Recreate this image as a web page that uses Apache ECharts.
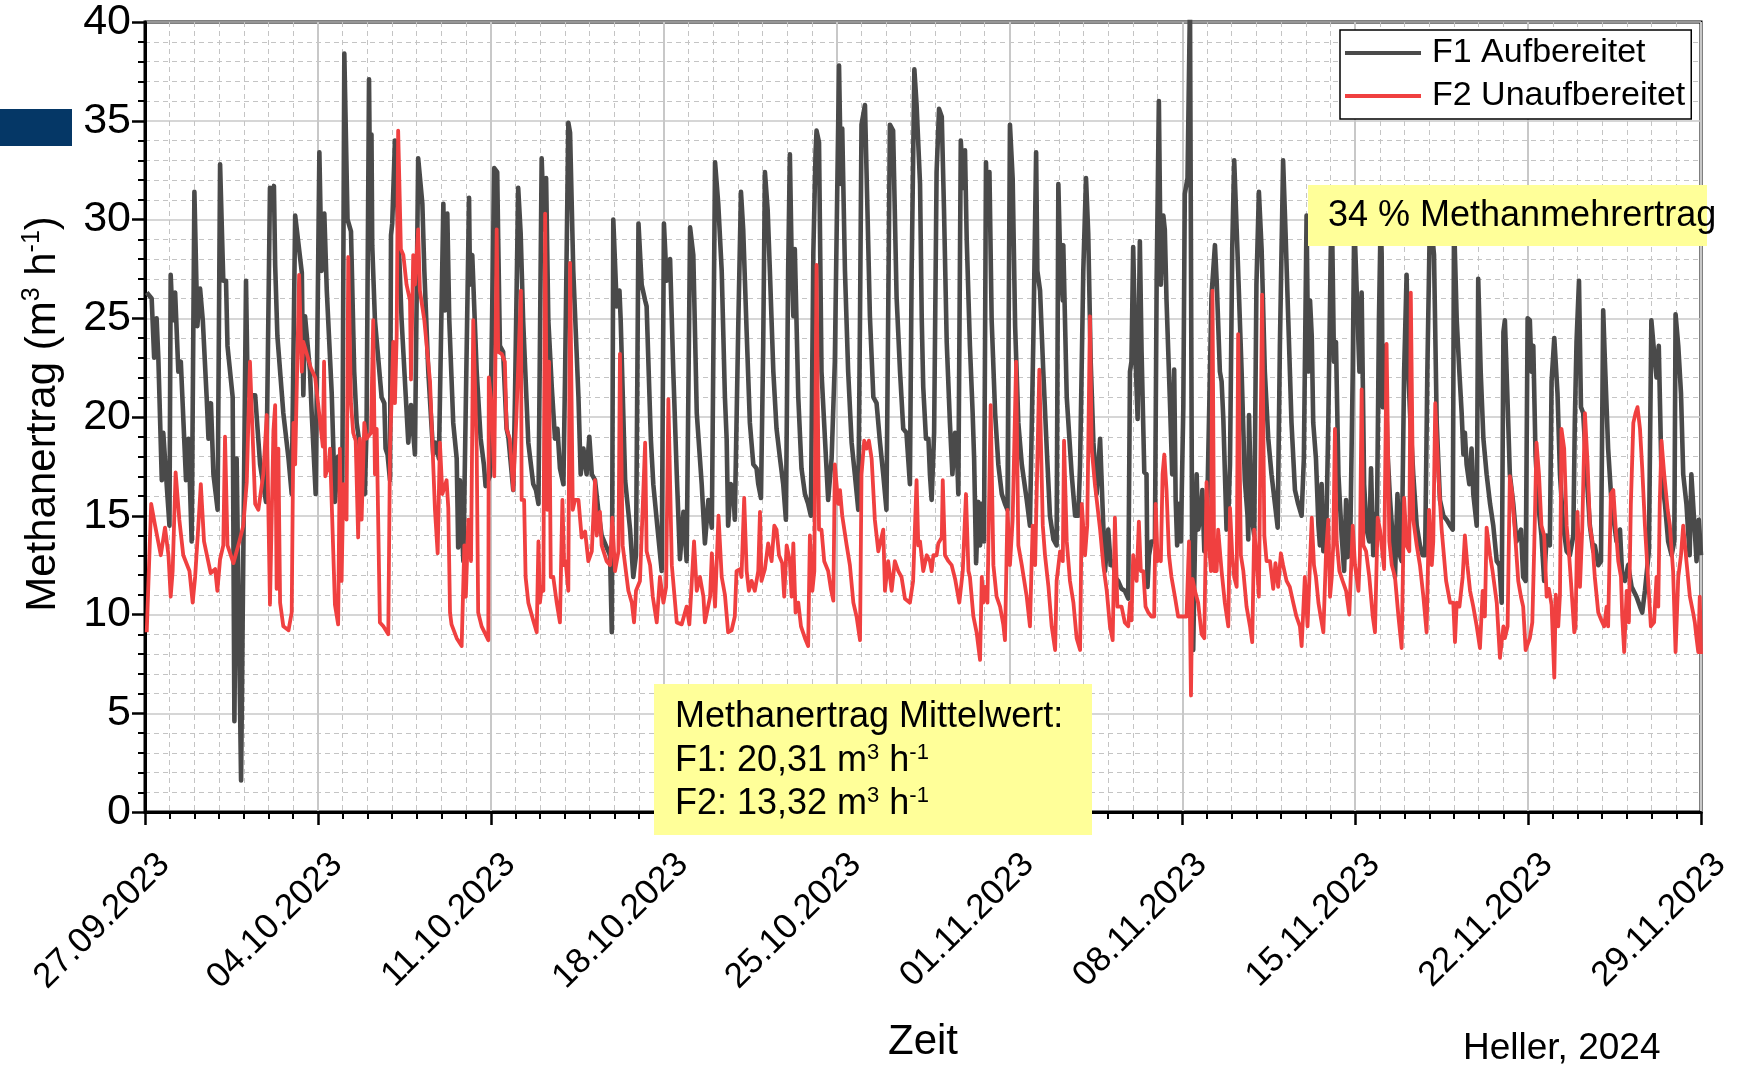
<!DOCTYPE html>
<html><head><meta charset="utf-8">
<script src="https://cdn.jsdelivr.net/npm/echarts@6/dist/echarts.min.js"></script>
<style>html,body{margin:0;padding:0;background:#fff}#c{width:1738px;height:1065px}</style>
</head><body><div id="c"></div>
<script>
// x = days since 27.09.2023 00:00, y = methane yield (m3/h)
const TICK_LABELS = ['27.09.2023','04.10.2023','11.10.2023','18.10.2023','25.10.2023','01.11.2023','08.11.2023','15.11.2023','22.11.2023','29.11.2023'];
const SERIES_NAMES = ['F1 Aufbereitet', 'F2 Unaufbereitet'];

const F1 = [
[0.07,26.3],[0.27,26.0],[0.37,23.0],[0.47,25.0],[0.54,23.0],[0.68,16.8],[0.74,19.2],[0.85,17.1],[0.99,14.5],
[1.04,27.2],[1.12,24.9],[1.22,26.3],[1.35,22.3],[1.45,22.8],[1.66,16.8],[1.76,18.9],[1.89,13.7],
[2.00,31.4],[2.12,24.6],[2.23,26.5],[2.34,24.9],[2.50,20.9],[2.57,18.9],[2.67,20.7],[2.77,17.1],[2.94,15.3],
[3.04,32.8],[3.17,26.9],[3.28,26.9],[3.34,23.6],[3.55,21.0],[3.62,4.6],[3.71,17.9],[3.89,1.6],
[4.09,26.9],[4.16,21.1],[4.46,21.1],[4.66,17.6],[4.90,15.7],
[5.06,31.6],[5.16,30.8],[5.22,31.7],[5.27,27.7],[5.36,24.1],[5.60,20.2],[5.81,17.9],[5.94,16.1],
[6.08,30.2],[6.35,27.3],[6.41,21.1],[6.48,25.1],[6.68,22.3],[6.75,20.2],[6.91,16.1],
[7.06,33.4],[7.15,27.4],[7.26,30.3],[7.36,26.4],[7.56,21.2],[7.69,15.7],[7.82,18.0],[7.99,16.5],
[8.07,38.4],[8.20,30.0],[8.34,29.4],[8.47,22.3],[8.57,19.7],[8.66,18.9],[8.90,16.1],[8.97,19.4],
[9.07,37.1],[9.13,29.0],[9.17,34.3],[9.20,28.7],[9.31,24.9],[9.58,21.0],[9.69,20.7],[9.74,18.4],[9.82,18.1],[9.92,16.8],
[9.96,29.2],[10.01,29.8],[10.12,34.0],[10.39,24.9],[10.66,18.7],[10.77,20.6],[10.93,18.1],
[11.06,33.1],[11.23,30.8],[11.31,27.4],[11.47,22.3],[11.67,18.1],[11.77,18.7],[11.90,17.9],
[12.08,30.8],[12.14,25.4],[12.24,30.3],[12.32,24.9],[12.48,19.7],[12.62,17.9],[12.68,13.4],[12.75,16.8],[12.89,12.7],
[13.12,31.1],[13.16,26.7],[13.25,28.2],[13.43,22.3],[13.59,18.9],[13.72,17.6],[13.79,16.5],[13.96,17.0],
[14.14,32.6],[14.26,32.4],[14.30,29.0],[14.37,23.6],[14.50,23.3],[14.64,19.4],[14.71,19.0],[14.91,16.3],[14.98,21.0],
[15.11,31.6],[15.21,29.3],[15.31,24.9],[15.52,18.7],[15.72,16.6],[15.83,16.3],[15.93,15.6],
[16.06,33.1],[16.16,29.5],[16.24,32.1],[16.33,24.9],[16.47,21.5],[16.60,18.9],[16.70,19.4],[16.80,17.4],[16.94,16.6],[17.01,22.3],
[17.14,34.9],[17.21,34.4],[17.34,27.4],[17.55,21.0],[17.64,17.1],[17.75,18.4],[17.88,17.1],[17.99,19.0],
[18.09,17.1],[18.22,16.8],[18.36,15.2],[18.49,14.0],[18.69,13.4],[18.83,13.0],[18.90,9.1],
[18.96,30.0],[19.10,25.6],[19.21,26.4],[19.26,24.9],[19.44,16.8],[19.64,14.3],[19.77,11.9],[19.88,13.0],
[19.98,29.8],[20.11,26.7],[20.25,25.9],[20.31,25.6],[20.48,18.9],[20.58,16.6],[20.74,14.5],[20.92,12.2],
[21.01,29.8],[21.12,26.9],[21.26,28.0],[21.39,22.3],[21.53,17.1],[21.66,12.8],[21.80,15.2],[21.93,12.7],
[22.07,29.6],[22.20,28.2],[22.34,20.2],[22.54,16.6],[22.67,13.6],[22.81,15.8],[22.95,14.4],
[23.08,32.9],[23.21,30.8],[23.35,27.4],[23.48,21.0],[23.55,18.9],[23.61,14.5],[23.72,16.6],[23.82,16.3],[23.88,14.8],[23.95,14.9],
[24.02,24.6],[24.13,31.4],[24.22,29.5],[24.36,24.3],[24.49,19.7],[24.63,17.6],[24.76,17.4],[24.83,16.6],[24.94,15.9],
[25.03,23.6],[25.10,32.4],[25.21,30.5],[25.30,27.4],[25.44,22.3],[25.57,19.4],[25.71,17.9],[25.84,16.6],[25.95,14.8],
[26.04,27.4],[26.11,33.3],[26.18,28.2],[26.25,25.1],[26.31,28.5],[26.45,21.0],[26.58,17.4],[26.72,16.1],[26.85,15.6],[26.96,15.0],
[27.06,28.3],[27.15,33.4],[27.19,34.5],[27.29,33.9],[27.39,22.3],[27.53,18.9],[27.66,15.8],[27.80,17.9],[27.93,22.8],
[28.10,37.8],[28.18,31.8],[28.23,34.6],[28.34,27.4],[28.47,22.3],[28.61,18.7],[28.74,17.1],[28.88,15.3],[28.95,25.1],
[29.01,34.8],[29.15,35.8],[29.26,30.0],[29.35,25.1],[29.49,21.0],[29.62,20.7],[29.76,18.7],[29.89,17.1],[30.02,15.3],
[30.16,34.8],[30.29,34.5],[30.43,26.1],[30.57,22.3],[30.70,19.4],[30.83,19.2],[30.97,16.6],
[31.04,27.4],[31.15,37.6],[31.24,35.8],[31.38,31.8],[31.45,24.9],[31.51,21.5],[31.62,18.9],[31.72,18.9],[31.78,17.1],[31.85,15.8],[31.95,19.2],
[32.05,32.4],[32.15,35.6],[32.26,35.2],[32.35,30.5],[32.46,23.8],[32.59,19.7],[32.69,17.1],[32.80,19.2],[32.86,18.9],[32.93,16.1],
[33.03,34.0],[33.13,31.6],[33.20,33.5],[33.27,29.0],[33.40,23.6],[33.51,20.2],[33.57,17.9],[33.65,12.6],[33.74,15.7],[33.81,13.5],[33.88,15.6],[33.97,13.7],
[34.05,32.9],[34.11,30.0],[34.19,32.4],[34.28,24.9],[34.42,20.2],[34.55,17.6],[34.69,16.1],[34.82,15.6],[34.92,15.3],
[35.02,34.8],[35.13,32.1],[35.23,24.6],[35.36,19.7],[35.50,17.6],[35.70,15.8],[35.83,14.5],[35.97,24.1],
[36.08,33.4],[36.13,27.4],[36.24,26.4],[36.37,22.3],[36.51,18.4],[36.64,15.0],[36.78,13.8],[36.91,13.5],
[36.98,31.8],[37.05,28.2],[37.16,25.9],[37.18,28.7],[37.32,21.0],[37.52,17.1],[37.66,15.0],[37.79,15.0],[37.86,17.6],
[37.99,27.4],[38.10,32.1],[38.19,29.3],[38.29,22.8],[38.40,18.7],[38.53,16.1],[38.67,18.9],[38.76,15.8],[38.87,12.2],
[39.00,14.3],[39.10,12.5],[39.21,12.7],[39.27,11.9],[39.40,11.7],[39.54,11.3],[39.67,11.2],[39.81,10.8],
[39.88,22.3],[39.94,22.8],[40.01,28.6],[40.11,22.8],[40.19,19.9],[40.28,28.9],[40.35,23.3],[40.46,17.2],[40.55,17.1],[40.59,11.4],
[40.65,13.0],[40.75,13.7],[40.89,13.7],[40.96,26.9],[41.05,36.0],[41.13,26.7],[41.23,30.2],[41.29,29.5],[41.36,25.9],
[41.50,20.7],[41.59,17.1],[41.67,22.4],[41.73,15.8],[41.79,13.5],[41.86,15.6],[41.94,13.7],
[42.04,20.5],[42.10,31.3],[42.21,32.1],[42.31,41.0],[42.40,11.9],[42.44,8.2],[42.51,13.5],[42.58,17.1],[42.64,14.3],
[42.75,15.0],[42.81,16.3],[42.89,13.2],[42.98,13.7],[43.18,26.1],[43.32,28.7],[43.39,26.9],[43.52,22.3],[43.59,21.8],[43.66,19.9],
[43.79,14.3],[43.86,15.0],[43.93,17.6],[44.02,28.5],[44.10,33.0],[44.20,29.5],[44.26,27.4],[44.40,22.3],[44.53,16.8],
[44.64,15.0],[44.67,13.8],[44.70,20.1],[44.80,15.0],[44.91,14.0],[45.00,26.7],[45.10,31.4],[45.21,28.5],[45.34,22.3],
[45.48,18.9],[45.61,17.1],[45.75,15.6],[45.86,14.4],[45.95,23.6],[46.08,33.0],[46.18,29.3],[46.29,24.9],[46.42,19.7],
[46.56,16.3],[46.69,15.6],[46.83,15.0],[46.92,17.9],[47.03,30.2],[47.10,22.3],[47.17,25.9],[47.24,24.1],[47.30,19.7],
[47.41,17.9],[47.51,14.5],[47.57,13.5],[47.64,16.6],[47.71,13.2],[47.82,13.7],[47.91,19.7],
[48.01,28.5],[48.06,30.0],[48.14,22.8],[48.22,23.8],[48.32,17.1],[48.45,14.0],[48.55,12.2],[48.63,15.8],[48.68,12.9],[48.79,13.0],
[48.90,22.3],[48.96,30.0],[49.06,26.4],[49.17,22.3],[49.26,26.3],[49.36,16.6],[49.46,14.3],[49.57,13.7],[49.64,17.4],
[49.73,13.0],[49.80,15.1],[49.87,13.5],[49.96,24.9],[50.03,30.0],[50.07,28.3],[50.11,20.5],[50.21,23.6],[50.30,18.4],
[50.41,15.8],[50.54,13.5],[50.61,11.9],[50.71,16.1],[50.81,13.0],[50.88,12.7],[50.98,22.3],[51.08,27.2],[51.15,22.3],
[51.22,20.2],[51.35,17.1],[51.49,14.5],[51.62,13.5],[51.73,13.0],[51.83,13.0],[51.92,22.3],[52.03,30.5],[52.19,28.2],
[52.30,19.7],[52.43,15.8],[52.57,15.0],[52.70,14.8],[52.84,14.5],[52.95,14.3],[53.00,30.0],[53.11,24.9],[53.22,22.2],
[53.31,20.2],[53.38,18.1],[53.44,19.2],[53.51,17.6],[53.62,16.6],[53.71,18.4],[53.78,16.1],[53.92,14.5],
[53.98,27.0],[54.08,22.3],[54.19,18.9],[54.32,17.1],[54.46,15.6],[54.59,14.5],[54.73,12.7],[54.84,12.5],[54.93,10.6],
[55.00,24.3],[55.06,24.9],[55.17,20.7],[55.26,17.1],[55.40,15.6],[55.53,13.7],[55.71,14.3],[55.80,11.9],[55.90,11.7],
[55.98,25.0],[56.07,24.9],[56.14,22.3],[56.21,23.6],[56.30,18.1],[56.41,15.6],[56.54,14.0],[56.65,11.7],[56.75,14.0],[56.88,13.5],
[56.95,21.8],[57.06,24.0],[57.11,24.1],[57.19,21.2],[57.29,17.1],[57.42,14.5],[57.56,13.2],[57.69,13.0],[57.83,14.0],
[57.89,19.7],[57.96,23.8],[58.06,26.9],[58.14,20.5],[58.23,20.2],[58.37,17.1],[58.50,14.5],[58.64,13.2],[58.70,13.5],
[58.84,12.5],[58.95,12.7],[59.04,25.4],[59.11,22.8],[59.24,18.4],[59.38,15.6],[59.58,13.7],[59.72,14.3],[59.81,11.9],
[59.92,11.7],[60.05,12.5],[60.19,11.4],[60.39,10.9],[60.53,10.4],[60.62,10.1],[60.73,11.2],[60.89,13.2],
[60.99,24.9],[61.10,23.3],[61.20,22.0],[61.29,23.6],[61.40,17.1],[61.54,15.6],[61.67,13.7],[61.81,13.0],[61.92,13.7],
[61.97,25.2],[62.08,23.6],[62.19,21.2],[62.28,17.1],[62.41,15.6],[62.54,13.0],[62.61,17.1],[62.72,14.8],[62.82,12.7],
[62.91,14.8],[63.00,13.0]
];

const F2 = [
[0.07,9.1],[0.25,15.6],[0.41,14.5],[0.64,13.0],[0.81,14.4],[0.95,13.0],[1.04,10.9],[1.12,12.2],[1.24,17.2],[1.39,14.8],
[1.55,13.0],[1.80,12.2],[1.93,10.6],[2.03,11.9],[2.16,14.5],[2.26,16.6],[2.39,13.7],[2.66,12.1],[2.84,12.3],[2.93,11.2],
[3.04,12.8],[3.17,13.5],[3.24,19.0],[3.34,13.5],[3.58,12.6],[3.82,13.7],[3.98,14.5],[4.12,16.7],[4.25,22.8],[4.46,15.6],
[4.59,15.3],[4.79,17.1],[4.93,20.1],[5.06,10.5],[5.20,19.3],[5.27,20.6],[5.33,11.3],[5.40,18.4],[5.47,10.6],[5.60,9.4],
[5.81,9.2],[5.94,10.1],[6.01,19.7],[6.08,17.6],[6.24,27.2],[6.35,22.3],[6.41,23.8],[6.55,23.2],[6.71,22.5],[6.89,22.0],
[7.05,20.2],[7.20,18.5],[7.25,22.8],[7.30,17.0],[7.44,17.6],[7.49,18.4],[7.69,10.5],[7.82,9.5],[7.89,18.4],[7.96,11.7],
[8.03,16.6],[8.16,14.8],[8.23,28.1],[8.34,20.7],[8.43,19.2],[8.53,18.8],[8.63,13.9],[8.70,18.9],[8.77,14.8],[8.88,19.7],
[8.97,18.9],[9.15,19.2],[9.24,24.9],[9.31,17.1],[9.38,19.4],[9.51,9.6],[9.65,9.4],[9.85,9.0],[9.92,18.4],[9.98,20.7],
[10.05,23.8],[10.12,20.7],[10.19,24.1],[10.25,34.5],[10.36,28.5],[10.46,28.2],[10.59,26.7],[10.73,25.9],[10.77,21.9],
[10.86,28.2],[10.93,26.7],[11.06,29.5],[11.13,26.4],[11.31,24.9],[11.54,21.8],[11.74,15.3],[11.85,13.1],[11.94,18.7],
[12.04,16.1],[12.21,16.8],[12.28,15.4],[12.35,10.1],[12.41,9.5],[12.62,8.8],[12.82,8.4],[12.93,13.5],[12.99,10.9],
[13.09,14.8],[13.20,12.7],[13.29,24.9],[13.43,18.4],[13.49,10.1],[13.63,9.4],[13.90,8.7],[13.92,22.0],[14.03,20.7],
[14.14,17.0],[14.24,29.5],[14.30,23.3],[14.44,23.2],[14.57,22.8],[14.64,19.4],[14.77,18.9],[14.91,16.3],[15.04,20.1],
[15.22,26.4],[15.25,15.8],[15.35,15.8],[15.41,11.9],[15.52,10.6],[15.72,9.7],[15.86,9.1],[15.93,13.7],[15.99,10.6],
[16.06,11.4],[16.13,11.2],[16.20,30.3],[16.29,15.3],[16.36,22.8],[16.43,11.9],[16.53,11.9],[16.67,10.6],[16.80,9.6],
[16.90,15.8],[16.97,12.5],[17.03,12.7],[17.14,11.2],[17.21,27.8],[17.32,15.3],[17.41,15.8],[17.55,15.8],[17.68,13.9],
[17.82,14.2],[17.95,12.7],[18.09,13.2],[18.22,16.8],[18.29,14.0],[18.42,15.2],[18.49,13.5],[18.69,12.7],[18.83,12.5],
[18.92,14.9],[19.03,12.2],[19.17,13.2],[19.23,23.2],[19.34,13.5],[19.44,12.5],[19.57,11.2],[19.71,10.6],[19.80,9.6],
[19.88,11.2],[20.04,11.7],[20.25,18.7],[20.31,13.2],[20.45,12.5],[20.56,10.9],[20.72,9.6],[20.85,11.9],[20.99,10.6],
[21.10,11.4],[21.19,20.9],[21.33,12.5],[21.53,9.6],[21.73,9.5],[21.93,10.4],[22.04,9.5],[22.14,11.7],[22.23,13.7],
[22.34,11.2],[22.47,11.9],[22.61,10.9],[22.67,9.6],[22.88,10.9],[22.95,13.1],[23.08,10.4],[23.22,15.0],[23.35,11.9],
[23.48,11.0],[23.61,9.1],[23.75,9.2],[23.88,9.9],[23.95,12.2],[24.09,12.3],[24.15,11.9],[24.26,15.9],[24.36,12.2],
[24.45,11.2],[24.56,11.7],[24.69,11.2],[24.83,12.2],[24.90,15.2],[24.96,11.7],[25.10,12.3],[25.23,13.6],[25.37,12.7],
[25.48,14.5],[25.57,14.3],[25.67,13.0],[25.80,12.6],[25.88,10.9],[25.98,13.5],[26.11,12.7],[26.18,10.9],[26.25,13.6],
[26.34,10.1],[26.45,10.6],[26.56,9.4],[26.72,8.8],[26.85,8.4],[26.92,14.0],[27.02,11.2],[27.10,12.2],[27.19,27.7],
[27.29,14.3],[27.39,14.3],[27.50,12.7],[27.66,12.2],[27.77,11.3],[27.87,10.7],[27.93,17.6],[28.07,15.6],[28.14,16.3],
[28.23,15.0],[28.41,13.5],[28.54,12.5],[28.68,10.6],[28.81,9.9],[28.95,8.7],[29.01,17.1],[29.12,18.8],[29.22,18.4],
[29.31,18.8],[29.42,17.9],[29.55,14.8],[29.69,13.2],[29.89,14.3],[29.96,11.2],[30.09,12.7],[30.23,11.2],[30.36,12.7],
[30.50,12.2],[30.63,11.9],[30.77,10.8],[30.97,10.6],[31.10,11.7],[31.24,16.8],[31.31,13.5],[31.38,13.7],[31.51,12.2],
[31.65,13.0],[31.78,12.7],[31.85,12.2],[31.92,13.0],[32.05,13.0],[32.12,13.6],[32.26,13.9],[32.30,16.8],[32.39,13.0],
[32.53,12.7],[32.66,12.5],[32.80,11.8],[32.97,10.6],[33.11,12.2],[33.24,16.1],[33.34,12.2],[33.40,11.9],[33.54,9.9],
[33.67,9.1],[33.81,7.7],[33.88,11.9],[33.94,10.6],[34.01,11.4],[34.11,10.6],[34.24,20.6],[34.35,12.5],[34.48,10.9],
[34.62,10.4],[34.75,9.5],[34.82,8.7],[34.92,15.3],[35.02,12.5],[35.13,14.8],[35.27,22.8],[35.36,13.5],[35.50,12.5],
[35.70,10.9],[35.83,9.4],[35.94,14.5],[36.04,12.5],[36.21,22.4],[36.35,14.5],[36.44,13.0],[36.58,11.4],[36.71,9.4],
[36.85,8.2],[36.91,11.7],[37.05,13.2],[37.16,12.7],[37.21,18.8],[37.32,13.7],[37.45,11.7],[37.59,10.6],[37.72,8.8],
[37.86,8.2],[37.93,15.6],[38.06,13.0],[38.15,14.5],[38.26,25.1],[38.33,18.4],[38.46,16.6],[38.67,14.3],[38.80,12.5],
[38.94,11.2],[39.07,9.4],[39.18,8.7],[39.27,14.9],[39.37,10.4],[39.54,10.4],[39.67,9.6],[39.81,9.4],[39.88,10.6],
[39.94,9.7],[40.01,13.0],[40.08,12.2],[40.15,11.7],[40.24,14.7],[40.32,12.2],[40.42,12.2],[40.51,10.4],[40.62,10.1],
[40.75,9.9],[40.86,9.9],[40.92,15.6],[41.00,12.7],[41.05,13.0],[41.13,12.7],[41.20,17.1],[41.27,18.1],[41.36,16.3],
[41.46,13.0],[41.56,11.9],[41.70,10.9],[41.83,9.9],[41.97,9.9],[42.17,9.9],[42.27,13.7],[42.35,5.9],[42.41,11.8],
[42.51,11.2],[42.64,10.6],[42.78,9.0],[42.89,8.8],[42.98,16.7],[43.08,13.5],[43.16,12.2],[43.22,26.4],[43.29,12.2],
[43.39,12.2],[43.45,14.3],[43.59,12.2],[43.72,10.6],[43.86,9.4],[43.93,15.4],[44.02,13.0],[44.10,11.9],[44.20,11.4],
[44.26,24.2],[44.37,13.0],[44.47,12.2],[44.60,10.4],[44.74,9.4],[44.83,8.6],[44.91,14.3],[45.00,13.0],[45.10,10.9],
[45.23,26.2],[45.32,14.0],[45.41,12.7],[45.55,12.7],[45.68,11.3],[45.77,12.6],[45.88,11.4],[45.99,13.1],[46.08,12.5],
[46.22,11.7],[46.35,11.4],[46.49,10.6],[46.62,9.9],[46.76,9.4],[46.83,8.4],[46.96,11.9],[47.07,9.4],[47.24,14.9],
[47.33,12.5],[47.41,11.9],[47.51,10.6],[47.60,9.9],[47.71,9.1],[47.82,13.2],[47.91,14.8],[47.98,10.9],[48.05,11.9],
[48.11,13.5],[48.18,19.4],[48.25,13.7],[48.36,12.2],[48.49,11.7],[48.63,11.2],[48.76,10.0],[48.90,14.5],[48.99,12.5],
[49.13,11.2],[49.19,13.0],[49.26,21.4],[49.33,13.5],[49.44,13.2],[49.57,11.9],[49.71,9.9],[49.80,9.1],[49.91,14.9],
[50.00,14.3],[50.17,12.3],[50.27,23.7],[50.38,13.7],[50.48,12.5],[50.61,11.9],[50.75,9.9],[50.88,8.3],[50.98,15.9],
[51.08,13.5],[51.19,13.2],[51.25,26.3],[51.35,14.8],[51.49,13.5],[51.62,12.5],[51.76,10.9],[51.89,9.1],[51.99,15.3],
[52.10,12.5],[52.16,13.7],[52.24,20.7],[52.37,17.0],[52.50,14.3],[52.68,11.7],[52.84,10.6],[52.97,10.6],[53.04,8.6],
[53.11,10.6],[53.22,10.4],[53.35,11.9],[53.44,14.0],[53.54,12.5],[53.65,11.2],[53.78,10.4],[53.92,9.4],[54.05,8.3],
[54.16,11.2],[54.25,9.9],[54.32,14.4],[54.46,13.0],[54.56,12.2],[54.73,10.6],[54.86,7.8],[55.00,9.4],[55.06,8.8],
[55.17,9.4],[55.26,17.0],[55.36,16.1],[55.46,14.3],[55.60,11.7],[55.71,10.9],[55.80,10.4],[55.90,8.2],[55.98,8.3],
[56.07,8.8],[56.17,9.6],[56.25,13.5],[56.34,18.7],[56.44,17.1],[56.54,14.5],[56.65,14.0],[56.75,10.9],[56.84,11.3],
[56.95,10.5],[57.06,6.8],[57.12,11.0],[57.22,9.4],[57.29,11.0],[57.35,19.4],[57.46,18.4],[57.56,14.5],[57.65,13.2],
[57.76,11.2],[57.87,9.1],[57.92,9.4],[58.00,15.2],[58.10,11.4],[58.19,14.3],[58.30,20.2],[58.41,17.6],[58.50,14.5],
[58.60,13.7],[58.70,11.9],[58.84,10.1],[58.97,9.7],[59.08,9.4],[59.18,10.4],[59.24,9.4],[59.35,16.1],[59.45,16.3],
[59.54,14.5],[59.65,12.7],[59.76,11.9],[59.81,9.9],[59.89,8.1],[59.99,11.2],[60.08,9.6],[60.16,15.6],[60.26,19.7],
[60.35,20.2],[60.43,20.5],[60.53,19.4],[60.62,17.4],[60.73,14.5],[60.86,11.7],[60.97,9.4],[61.10,9.6],[61.20,11.9],
[61.27,10.4],[61.33,15.6],[61.40,18.8],[61.51,17.1],[61.65,15.3],[61.74,14.5],[61.87,12.2],[61.97,8.1],[62.08,11.9],
[62.19,13.0],[62.28,14.5],[62.41,12.7],[62.55,10.9],[62.68,10.1],[62.75,9.6],[62.82,8.8],[62.89,8.1],[62.95,10.9],[63.00,8.0]
];

const NOTE_MEAN = ['Methanertrag Mittelwert:', 'F1: 20,31 m{sup|3} h{sup|-1}', 'F2: 13,32 m{sup|3} h{sup|-1}'];
const NOTE_GAIN = '34 % Methanmehrertrag';

const FONT = '"Liberation Sans", Arial, Helvetica, sans-serif';
const chart = echarts.init(document.getElementById('c'), null, {renderer: 'canvas'});
const supRich = {
  sup: {fontSize: 22, fontFamily: FONT, fill: '#000', verticalAlign: 'top', lineHeight: 22}
};
const supRichBig = {
  sup: {fontSize: 25, fontFamily: FONT, fill: '#000', verticalAlign: 'top', lineHeight: 25}
};

chart.setOption({
  animation: false,
  backgroundColor: '#fff',
  grid: {left: 145, top: 22, width: 1556, height: 790, containLabel: false, outerBoundsMode: 'none',
         show: true, borderColor: '#000', borderWidth: 3, backgroundColor: 'rgba(0,0,0,0)'},
  xAxis: {
    type: 'value', min: 0, max: 63, interval: 7,
    axisLine: {show: true, onZero: false, lineStyle: {color: '#000', width: 3}},
    axisTick: {show: true, length: 13, lineStyle: {color: '#000', width: 2.5}},
    minorTick: {show: true, splitNumber: 7, length: 7, lineStyle: {color: '#000', width: 2}},
    splitLine: {show: true, lineStyle: {color: '#c8c8c8', width: 2}},
    minorSplitLine: {show: true, lineStyle: {color: '#c4c4c4', width: 1, type: [5, 4]}},
    axisLabel: {rotate: 45, fontSize: 35, color: '#000', fontFamily: FONT, margin: 28, lineHeight: 54,
      formatter: v => ' \n' + (TICK_LABELS[Math.round(v / 7)] || '')}
  },
  yAxis: {
    type: 'value', min: 0, max: 40, interval: 5,
    axisLine: {show: true, lineStyle: {color: '#000', width: 3}},
    axisTick: {show: true, length: 13, lineStyle: {color: '#000', width: 2.5}},
    minorTick: {show: true, splitNumber: 5, length: 7, lineStyle: {color: '#000', width: 2}},
    splitLine: {show: true, lineStyle: {color: '#c8c8c8', width: 1.5}},
    minorSplitLine: {show: true, lineStyle: {color: '#c4c4c4', width: 1, type: [5, 4]}},
    axisLabel: {fontSize: 43, color: '#000', fontFamily: FONT, margin: 14}
  },
  legend: {
    orient: 'vertical', left: 1340, top: 30, padding: [4, 6, 4, 5], itemGap: 5,
    itemWidth: 76, itemHeight: 4, icon: 'rect', backgroundColor: '#fff', borderColor: '#000', borderWidth: 1.5,
    textStyle: {fontSize: 34, color: '#000', fontFamily: FONT, lineHeight: 38, padding: [0, 0, 0, 6]},
    data: SERIES_NAMES
  },
  series: [
    {name: SERIES_NAMES[0], type: 'line', data: F1, symbol: 'none', showSymbol: false, clip: true, z: 2,
     lineStyle: {color: '#4a4a4a', width: 4.6, join: 'round'}, itemStyle: {color: '#4a4a4a'}},
    {name: SERIES_NAMES[1], type: 'line', data: F2, symbol: 'none', showSymbol: false, clip: true, z: 3,
     lineStyle: {color: '#f04040', width: 3.8, join: 'round'}, itemStyle: {color: '#f04040'}}
  ],
  graphic: [
    {type: 'rect', z: 100, shape: {x: 0, y: 109, width: 72, height: 37}, style: {fill: '#053766'}},
    {type: 'rect', z: 100, shape: {x: 1308, y: 185, width: 399, height: 61}, style: {fill: '#ffff99'}},
    {type: 'text', z: 101, x: 1328, y: 216, style: {text: NOTE_GAIN, fontSize: 36, fontFamily: FONT, fill: '#000', align: 'left', verticalAlign: 'middle'}},
    {type: 'rect', z: 100, shape: {x: 654, y: 684, width: 438, height: 151}, style: {fill: '#ffff99'}},
    {type: 'text', z: 101, x: 675, y: 717, style: {text: NOTE_MEAN[0], fontSize: 36, fontFamily: FONT, fill: '#000', align: 'left', verticalAlign: 'middle', lineHeight: 38, rich: supRich}},
    {type: 'text', z: 101, x: 675, y: 761, style: {text: NOTE_MEAN[1], fontSize: 36, fontFamily: FONT, fill: '#000', align: 'left', verticalAlign: 'middle', lineHeight: 38, rich: supRich}},
    {type: 'text', z: 101, x: 675, y: 804, style: {text: NOTE_MEAN[2], fontSize: 36, fontFamily: FONT, fill: '#000', align: 'left', verticalAlign: 'middle', lineHeight: 38, rich: supRich}},
    {type: 'text', z: 101, x: 43, y: 414, rotation: Math.PI / 2,
     style: {text: 'Methanertrag (m{sup|3} h{sup|-1})', fontSize: 42, fontFamily: FONT, fill: '#000', align: 'center', verticalAlign: 'middle', lineHeight: 46, rich: supRichBig}},
    {type: 'text', z: 101, x: 923, y: 1042, style: {text: 'Zeit', fontSize: 42, fontFamily: FONT, fill: '#000', align: 'center', verticalAlign: 'middle'}},
    {type: 'text', z: 101, x: 1463, y: 1049, style: {text: 'Heller, 2024', fontSize: 37, fontFamily: FONT, fill: '#000', align: 'left', verticalAlign: 'middle'}}
  ]
});
</script></body></html>
